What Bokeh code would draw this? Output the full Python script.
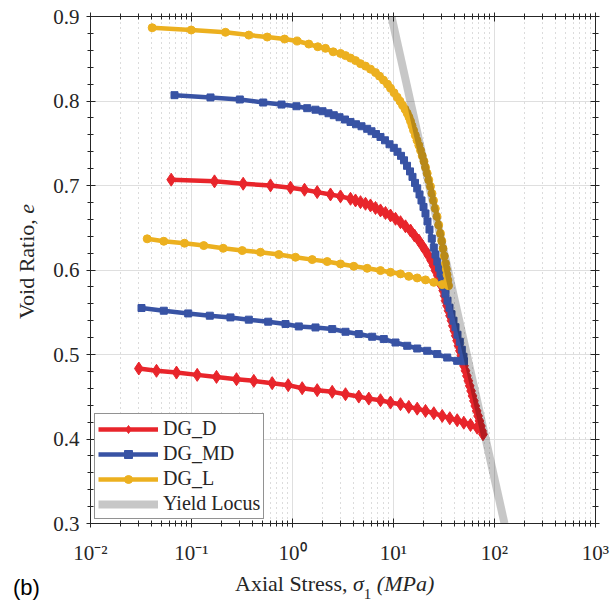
from bokeh.plotting import figure
from bokeh.layouts import row, column
from bokeh.models import (Range1d, FixedTicker, LogAxis, LinearAxis, Legend,
                          LegendItem, Div)
from bokeh.embed import file_html
from bokeh.resources import INLINE

# ---------------- data ----------------
# DG_D : loading then unloading
dgd_load_stress = [0.06295, 0.1689, 0.3249, 0.6056, 0.9554, 1.315, 1.756, 2.378, 2.987, 3.752,
                   4.205, 4.713, 5.282, 5.920, 6.634, 7.435, 8.333, 9.339, 10.47, 11.73,
                   13.15, 14.74, 16.14, 17.81, 19.24, 20.74, 22.21, 23.62, 24.89, 26.05,
                   27.46, 28.74, 29.87, 31.05, 31.99, 32.73, 33.87, 35.05, 36.26, 37.52,
                   38.65, 39.99, 41.29, 42.62, 44.01, 45.44, 46.92, 48.43, 49.89, 51.63,
                   53.30, 55.03, 56.82, 58.66, 60.56, 62.52, 64.55, 66.64, 68.80, 71.03,
                   73.33, 75.36, 76.92]
dgd_load_void = [0.7069, 0.7049, 0.7021, 0.7001, 0.6974, 0.6950, 0.6922, 0.6894, 0.6871, 0.6843,
                 0.6823, 0.6803, 0.6784, 0.6764, 0.6734, 0.6705, 0.6675, 0.6645, 0.6606, 0.6566,
                 0.6517, 0.6467, 0.6408, 0.6349, 0.6289, 0.6230, 0.6171, 0.6112, 0.6052, 0.5993,
                 0.5934, 0.5874, 0.5815, 0.5756, 0.5696, 0.5637, 0.5578, 0.5518, 0.5459, 0.5400,
                 0.5340, 0.5281, 0.5222, 0.5163, 0.5103, 0.5044, 0.4985, 0.4925, 0.4866, 0.4807,
                 0.4747, 0.4688, 0.4629, 0.4569, 0.4510, 0.4451, 0.4391, 0.4332, 0.4273, 0.4214,
                 0.4154, 0.4095, 0.4056]
dgd_unload_stress = [67.41, 57.87, 49.66, 42.72, 36.09, 30.36, 25.06, 20.74, 17.17, 14.17,
                     11.73, 9.339, 7.435, 5.694, 4.533, 3.348, 2.473, 1.756, 1.247, 0.9066,
                     0.6295, 0.4138, 0.2790, 0.1768, 0.1139, 0.07103, 0.04502, 0.03008]
dgd_unload_void = [0.4134, 0.4166, 0.4193, 0.4222, 0.4246, 0.4273, 0.4305, 0.4332, 0.4359, 0.4380,
                   0.4412, 0.4431, 0.4459, 0.4478, 0.4502, 0.4530, 0.4558, 0.4578, 0.4601, 0.4637,
                   0.4661, 0.4688, 0.4708, 0.4735, 0.4759, 0.4786, 0.4807, 0.4834]

# DG_MD
dgmd_load_stress = [0.06786, 0.1542, 0.3008, 0.5128, 0.7783, 1.095, 1.398, 1.689, 1.982, 2.272,
                    2.564, 2.920, 3.310, 3.752, 4.253, 4.822, 5.490, 6.056, 6.710, 7.435,
                    8.238, 9.129, 10.07, 10.96, 11.87, 12.71, 13.61, 14.57, 15.42, 16.33,
                    17.17, 18.09, 18.93, 19.82, 20.74, 21.71, 22.72, 23.95, 25.06, 26.05,
                    27.15, 28.22, 29.20, 30.36, 31.48, 32.73, 34.26, 35.85, 37.52, 39.27,
                    41.11, 43.02, 45.33, 47.45, 49.33, 49.90]
dgmd_load_void = [0.8069, 0.8042, 0.8018, 0.7982, 0.7958, 0.7938, 0.7915, 0.7897, 0.7879, 0.7855,
                  0.7832, 0.7808, 0.7781, 0.7752, 0.7725, 0.7701, 0.7671, 0.7642, 0.7609, 0.7574,
                  0.7535, 0.7488, 0.7446, 0.7399, 0.7351, 0.7298, 0.7233, 0.7167, 0.7102, 0.7031,
                  0.6966, 0.6894, 0.6823, 0.6746, 0.6669, 0.6574, 0.6479, 0.6372, 0.6266, 0.6183,
                  0.6100, 0.6028, 0.5957, 0.5880, 0.5803, 0.5720, 0.5637, 0.5554, 0.5477, 0.5400,
                  0.5323, 0.5234, 0.5151, 0.5056, 0.4973, 0.4920]
dgmd_unload_stress = [42.72, 34.02, 27.09, 21.56, 17.17, 13.67, 10.47, 8.017, 6.153, 4.533,
                      3.348, 2.473, 1.689, 1.154, 0.8527, 0.5745, 0.3693, 0.2432, 0.1518, 0.09275,
                      0.05316, 0.03199]
dgmd_unload_void = [0.4925, 0.4964, 0.5005, 0.5044, 0.5071, 0.5103, 0.5142, 0.5183, 0.5210, 0.5242,
                    0.5269, 0.5301, 0.5320, 0.5332, 0.5361, 0.5388, 0.5412, 0.5439, 0.5459, 0.5486,
                    0.5518, 0.5550]

# DG_L
dgl_load_stress = [0.0408, 0.0993, 0.217, 0.369, 0.562, 0.834, 1.11, 1.45, 1.78, 2.12,
                   2.53, 2.987, 3.348, 3.752, 4.205, 4.713, 5.282, 5.920, 6.634, 7.267,
                   7.962, 8.721, 9.339, 10.12, 10.88, 11.60, 12.28, 13.00, 13.67, 14.24,
                   14.74, 15.25, 15.78, 16.44, 17.09, 17.81, 18.51, 19.24, 20.04, 20.74,
                   21.56, 22.36, 23.25, 24.06, 24.89, 25.94, 26.97, 28.03, 29.20, 30.08,
                   30.91, 31.84, 32.73, 33.33, 33.87, 34.49, 35.05]
dgl_load_void = [0.8867, 0.8840, 0.8813, 0.8780, 0.8757, 0.8733, 0.8710, 0.8674, 0.8642, 0.8623,
                 0.8582, 0.8563, 0.8537, 0.8508, 0.8478, 0.8442, 0.8413, 0.8377, 0.8336, 0.8294,
                 0.8247, 0.8199, 0.8152, 0.8098, 0.8045, 0.7998, 0.7950, 0.7903, 0.7855, 0.7808,
                 0.7760, 0.7707, 0.7654, 0.7594, 0.7535, 0.7476, 0.7416, 0.7351, 0.7286, 0.7215,
                 0.7144, 0.7066, 0.6989, 0.6906, 0.6823, 0.6728, 0.6633, 0.6533, 0.6432, 0.6343,
                 0.6254, 0.6165, 0.6076, 0.6011, 0.5945, 0.5880, 0.5815]
dgl_unload_stress = [30.36, 25.06, 20.74, 17.17, 14.17, 11.73, 9.339, 7.435, 5.490, 4.045,
                     2.987, 2.206, 1.567, 1.071, 0.7318, 0.4822, 0.3177, 0.2060, 0.1323, 0.08524,
                     0.05316, 0.03642]
dgl_unload_void = [0.5827, 0.5854, 0.5883, 0.5906, 0.5925, 0.5954, 0.5973, 0.5993, 0.6020, 0.6044,
                   0.6072, 0.6100, 0.6123, 0.6151, 0.6183, 0.6210, 0.6230, 0.6257, 0.6289, 0.6317,
                   0.6340, 0.6369]

# Yield locus
locus_stress = [9.55, 125.6]
locus_void = [0.9, 0.3]

series_names = ["DG_D", "DG_MD", "DG_L", "Yield Locus"]

x_ticks = [0.01, 0.1, 1, 10, 100, 1000]
x_tick_labels = ["10\u207b\u00b2", "10\u207b\u00b9", "10\u2070", "10\u00b9", "10\u00b2", "10\u00b3"]
y_ticks = [0.3, 0.4, 0.5, 0.6, 0.7, 0.8, 0.9]
y_tick_labels = ["0.3", "0.4", "0.5", "0.6", "0.7", "0.8", "0.9"]

x_title_html = "Axial Stress, <i>\u03c3</i><sub style='font-size:15px;vertical-align:-8px;line-height:0'>1</sub> <i>(MPa)</i>"
y_title_html = "Void Ratio, <i>e</i>"
panel_tag = "(b)"

# ---------------- styling ----------------
RED = "#e8252b"
BLUE = "#3853a4"
YELLOW = "#ecb01f"
AX = "#262626"
SERIF = "Liberation Serif"

x_minor = [m * 10.0 ** k for k in range(-2, 3) for m in range(2, 10)]
y_minor = [round(0.3 + 0.02 * i, 2) for i in range(31)]

LEFT_W = 45
p = figure(width=613 - LEFT_W, height=567, x_axis_type="log",
           x_range=Range1d(0.01, 1000), y_range=Range1d(0.3, 0.9),
           output_backend="svg", toolbar_location=None,
           min_border_left=90 - LEFT_W, min_border_right=18, min_border_top=16,
           min_border_bottom=44)
p.margin = 0
p.outline_line_color = None
p.background_fill_color = "white"
p.border_fill_color = "white"

def style_axis(ax, labels=True):
    ax.axis_line_color = AX
    ax.axis_line_width = 1
    ax.major_tick_line_color = AX
    ax.minor_tick_line_color = AX
    ax.major_tick_in = 5
    ax.major_tick_out = 4
    ax.minor_tick_in = 3
    ax.minor_tick_out = 3
    ax.major_label_text_font = SERIF
    ax.major_label_text_color = AX
    ax.major_label_text_font_size = "21px"
    if not labels:
        ax.major_label_text_font_size = "2px"
        ax.major_label_text_alpha = 0
        ax.major_label_standoff = 0

xa = p.xaxis[0]
xa.ticker = FixedTicker(ticks=x_ticks, minor_ticks=x_minor)
xa.major_label_overrides = dict(zip(x_ticks, x_tick_labels))
style_axis(xa)
xa.major_label_standoff = 13

ya = p.yaxis[0]
ya.ticker = FixedTicker(ticks=y_ticks, minor_ticks=y_minor)
ya.major_label_overrides = dict(zip(y_ticks, y_tick_labels))
style_axis(ya)
ya.major_label_standoff = 7

top = LogAxis(ticker=FixedTicker(ticks=x_ticks, minor_ticks=x_minor))
style_axis(top, labels=False)
p.add_layout(top, "above")
right = LinearAxis(ticker=FixedTicker(ticks=y_ticks, minor_ticks=y_minor))
style_axis(right, labels=False)
p.add_layout(right, "right")

p.xgrid.grid_line_color = "#dfdfdf"
p.ygrid.grid_line_color = "#dfdfdf"
p.xgrid.minor_grid_line_color = "#b8b8b8"
p.xgrid.minor_grid_line_dash = "1 4"
p.ygrid.minor_grid_line_color = None

# ---------------- series ----------------
def draw(sx, sy, color, marker, size):
    ln = p.line(sx, sy, line_width=4.5, line_color=color, line_join="round")
    sc = p.scatter(sx, sy, marker=marker, size=size, fill_color=color, line_color=color)
    return ln, sc

d_line, d_sc = draw(dgd_load_stress + dgd_unload_stress, dgd_load_void + dgd_unload_void,
                    RED, "diamond", 13)
md_line, md_sc = draw(dgmd_load_stress + dgmd_unload_stress, dgmd_load_void + dgmd_unload_void,
                      BLUE, "square", 7)
l_line, l_sc = draw(dgl_load_stress + dgl_unload_stress, dgl_load_void + dgl_unload_void,
                    YELLOW, "circle", 8)
loc = p.line(locus_stress, locus_void, line_width=8, line_color="black", line_alpha=0.22,
             line_cap="butt")

legend = Legend(items=[
    LegendItem(label=series_names[0], renderers=[d_line, d_sc]),
    LegendItem(label=series_names[1], renderers=[md_line, md_sc]),
    LegendItem(label=series_names[2], renderers=[l_line, l_sc]),
    LegendItem(label=series_names[3], renderers=[loc]),
], location="bottom_left")
legend.margin = 4
legend.padding = 3
legend.spacing = 2
legend.glyph_width = 60
legend.glyph_height = 20
legend.label_height = 20
legend.label_standoff = 5
legend.label_text_font = SERIF
legend.label_text_font_size = "20px"
legend.label_text_color = AX
legend.border_line_color = AX
legend.border_line_width = 1
legend.background_fill_color = "white"
legend.background_fill_alpha = 1
p.add_layout(legend)

# ---------------- axis titles (HTML text around the plot) ----------------
SER = "font-family:'Liberation Serif',serif;font-size:22px;line-height:22px;color:#262626;white-space:nowrap;"
div_y = Div(width=LEFT_W, height=603, margin=0, text=(
    "<div style='position:relative;width:%dpx;height:603px;'>" % LEFT_W +
    "<div style=\"position:absolute;left:16px;top:319px;transform:rotate(-90deg);"
    "transform-origin:0 0;" + SER + "\">" + y_title_html + "</div>"
    "<div style=\"position:absolute;left:13px;top:577px;font-family:'Liberation Sans',sans-serif;"
    "font-size:22px;line-height:22px;color:#000;white-space:nowrap;\">" + panel_tag + "</div>"
    "</div>"))
div_x = Div(width=613 - LEFT_W, height=36, margin=0, text=(
    "<div style='position:relative;width:%dpx;height:36px;'>" % (613 - LEFT_W) +
    "<div style=\"position:absolute;left:%dpx;top:6px;" % (235 - LEFT_W) + SER + "\">" +
    x_title_html + "</div></div>"))

layout = row(div_y, column(p, div_x, spacing=0, margin=0), spacing=0, margin=0)

open("out.html", "w").write(file_html(layout, INLINE))
